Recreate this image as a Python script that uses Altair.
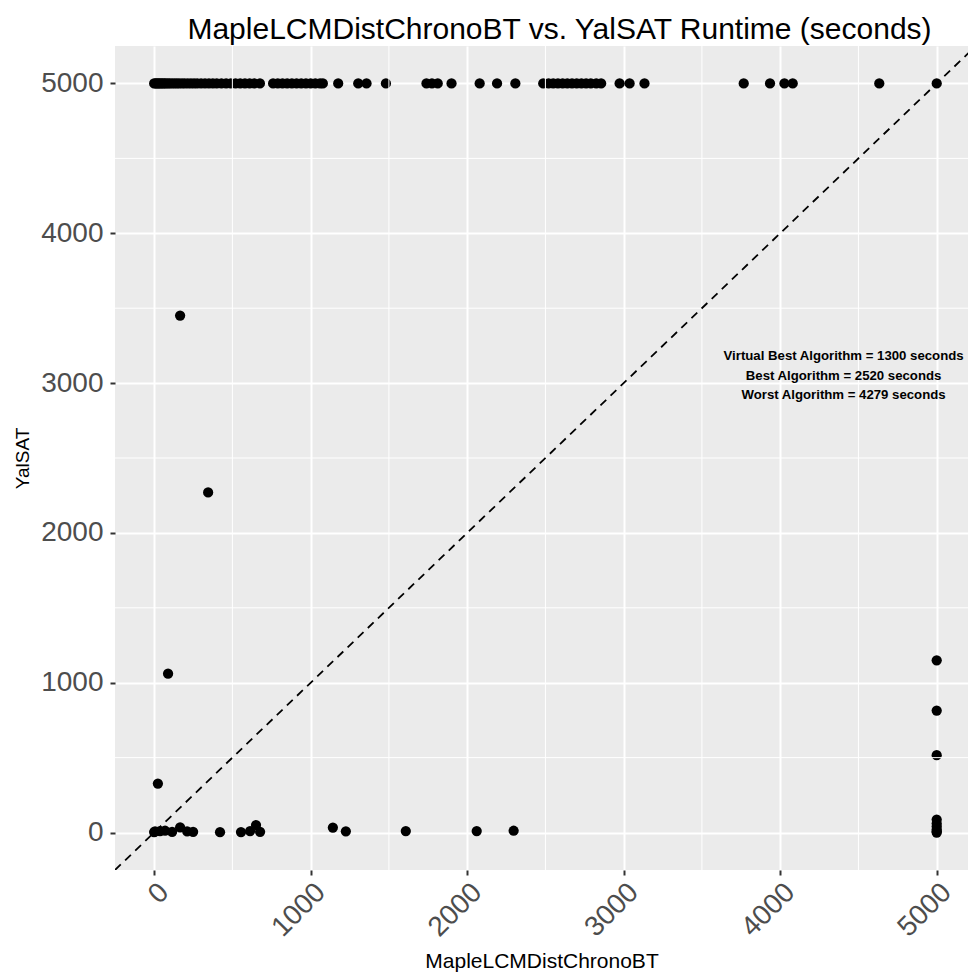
import altair as alt
import pandas as pd

TITLE = "MapleLCMDistChronoBT vs. YalSAT Runtime (seconds)"
X_TITLE = "MapleLCMDistChronoBT"
Y_TITLE = "YalSAT"
NOTE = ["Virtual Best Algorithm = 1300 seconds",
        "Best Algorithm = 2520 seconds",
        "Worst Algorithm = 4279 seconds"]
NOTE_X = [4405]
NOTE_Y = [3178]

MAJOR = [0, 1000, 2000, 3000, 4000, 5000]
MINOR = [500, 1500, 2500, 3500, 4500]

# points with YalSAT timing out (5000)
TOP_X = [0, 10, 18, 27, 36, 45, 55, 65, 75, 88, 100, 115, 130, 145, 160, 178,
         195, 215, 235, 255, 275, 300, 325, 350, 375, 400, 430, 460, 490, 520,
         550, 580, 610, 640, 676, 760, 790, 820, 850, 880, 910, 940, 970, 1000,
         1030, 1060, 1078, 1176, 1304, 1357, 1481, 1740, 1775, 1812, 1900, 2080,
         2191, 2308, 2486, 2520, 2550, 2580, 2610, 2640, 2670, 2700, 2730, 2760,
         2790, 2825, 2856, 2974, 3038, 3133, 3767, 3935, 4027, 4080, 4633, 5000]

# intermediate points
MID_X = [166, 345, 89]
MID_Y = [3451, 2270, 1060]

# points near the bottom
BOT_X = [0, 6, 38, 70, 115, 166, 211, 249, 421, 555, 613, 651, 677, 1142,
         1225, 1608, 2061, 2297, 24]
BOT_Y = [3, 8, 10, 12, 5, 35, 8, 5, 2, 3, 10, 50, 5, 33, 8, 10, 10, 12, 327]

# points with MapleLCMDistChronoBT timing out (5000)
RIGHT_Y = [1150, 814, 516, 87, 60, 40, 20, 8, 0]

xs = TOP_X + MID_X + BOT_X + [5000] * len(RIGHT_Y)
ys = [5000] * len(TOP_X) + MID_Y + BOT_Y + RIGHT_Y
points = pd.DataFrame({"x": xs, "y": ys})

FONT = "Liberation Sans"

x_scale = alt.Scale(domain=[-250, 5200], nice=False, zero=False)
y_scale = alt.Scale(domain=[-250, 5250], nice=False, zero=False)

x_axis = alt.Axis(values=MAJOR, format="d", labelAngle=315, labelAlign="right",
                  labelBaseline="top", labelFontSize=28, labelColor="#4D4D4D",
                  labelFont=FONT, labelPadding=3, labelFlush=False,
                  labelOverlap=False, labelBound=False,
                  tickSize=5, tickColor="#333333", tickWidth=2, domain=False,
                  grid=True, gridColor="white", gridWidth=2,
                  title=X_TITLE, titleFont=FONT, titleFontSize=21,
                  titleFontWeight="normal", titleColor="black",
                  titleBaseline="alphabetic", titleY=97)
y_axis = alt.Axis(values=MAJOR, format="d", labelFontSize=28, labelColor="#4D4D4D",
                  labelFont=FONT, labelPadding=7, labelFlush=False,
                  labelOverlap=False, labelBound=False,
                  tickSize=5, tickColor="#333333", tickWidth=2, domain=False,
                  grid=True, gridColor="white", gridWidth=2,
                  title=Y_TITLE, titleFont=FONT, titleFontSize=19,
                  titleFontWeight="normal", titleColor="black",
                  titleBaseline="alphabetic", titleX=-87)

X = alt.X("x:Q", scale=x_scale, axis=x_axis, title=X_TITLE)
Y = alt.Y("y:Q", scale=y_scale, axis=y_axis, title=Y_TITLE)

pts = alt.Chart(points).mark_circle(size=105, color="black", opacity=1).encode(
    x=X, y=Y)

minor_v = alt.Chart(pd.DataFrame({"x": MINOR})).mark_rule(
    color="white", strokeWidth=1).encode(x=X)
minor_h = alt.Chart(pd.DataFrame({"y": MINOR})).mark_rule(
    color="white", strokeWidth=1).encode(y=Y)

diag = alt.Chart(pd.DataFrame({"x": [-250, 5250], "y": [-250, 5250]})).mark_line(
    color="black", strokeDash=[8, 6], strokeWidth=1.8, clip=True).encode(
    x=X, y=Y)

note = alt.Chart(pd.DataFrame({"x": NOTE_X, "y": NOTE_Y})).mark_text(
    text=NOTE, font=FONT, fontSize=13.2, fontWeight="bold", color="black",
    align="center", baseline="middle", lineHeight=19.5).encode(x=X, y=Y)

chart = alt.layer(pts, minor_v, minor_h, diag, note).properties(
    width=853, height=824,
    title=alt.TitleParams(TITLE, font=FONT, fontSize=30, fontWeight="normal",
                          color="black", anchor="middle", offset=8,
                          baseline="alphabetic", dx=18, dy=31),
    autosize=alt.AutoSizeParams(type="none"),
    padding={"left": 107, "top": 38, "right": 0, "bottom": 102},
    background="white",
).configure_view(fill="#EBEBEB", stroke=None)

chart.save("out.html", embed_options={"renderer": "svg", "actions": False})
